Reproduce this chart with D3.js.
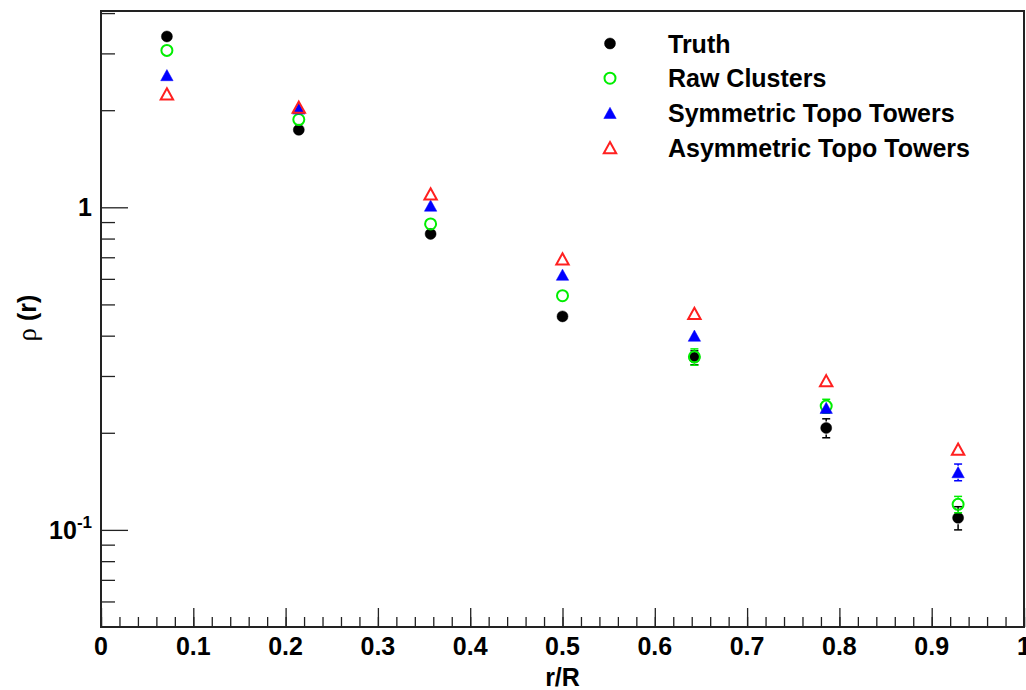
<!DOCTYPE html>
<html lang="en">
<head>
<meta charset="UTF-8">
<title>rho(r)</title>
<script src="https://d3js.org/d3.v7.min.js"></script>
<style>
  body { margin: 0; background: #fff; }
  text { font-family: "Liberation Sans", Arial, Helvetica, sans-serif; font-weight: bold; fill: #000; }
</style>
</head>
<body>
<script>
    // data
    const rBins = [0.0714, 0.2143, 0.3571, 0.5, 0.6429, 0.7857, 0.9286];

    const truth     = [3.385, 1.739, 0.827, 0.459, 0.342, 0.207, 0.109];
    const truthErr  = [0.02, 0.015, 0.01, 0.006, 0.017, 0.014, 0.009];
    const raw       = [3.064, 1.871, 0.888, 0.532, 0.344, 0.242, 0.120];
    const rawErr    = [0.02, 0.015, 0.01, 0.008, 0.02, 0.012, 0.007];
    const sym       = [2.569, 2.024, 1.012, 0.618, 0.400, 0.239, 0.151];
    const symErr    = [0.02, 0.015, 0.01, 0.008, 0.008, 0.01, 0.009];
    const asym      = [2.248, 2.043, 1.100, 0.692, 0.469, 0.290, 0.178];
    const asymErr   = [0.02, 0.015, 0.01, 0.008, 0.008, 0.008, 0.006];

    const seriesNames = ["Truth", "Raw Clusters", "Symmetric Topo Towers", "Asymmetric Topo Towers"];

    const xMajor = d3.range(0, 11).map(i => i / 10);
    const xMinor = d3.range(0, 51).map(i => i / 50);
    const xLabels = ["0", "0.1", "0.2", "0.3", "0.4", "0.5", "0.6", "0.7", "0.8", "0.9", "1"];
    const yMajor = [0.1, 1];
    const yMinor = [0.06, 0.07, 0.08, 0.09, 0.2, 0.3, 0.4, 0.5, 0.6, 0.7, 0.8, 0.9, 2, 3, 4];
    const yLabels = [["10", "-1"], ["1", ""]];

    const width  = 1026;
    const height = 690;
    const padL = 101, padR = 1024, padT = 11, padB = 627;
    const fs = 25;

    const series = [
        {name: seriesNames[0], vals: truth, errs: truthErr, color: "#000000", shape: "circle",   filled: true},
        {name: seriesNames[1], vals: raw,   errs: rawErr,   color: "#00ee00", shape: "circle",   filled: false},
        {name: seriesNames[2], vals: sym,   errs: symErr,   color: "#0000ff", shape: "triangle", filled: true},
        {name: seriesNames[3], vals: asym,  errs: asymErr,  color: "#ff2020", shape: "triangle", filled: false}
    ];

    const x = d3.scaleLinear().domain([0, 1]).range([padL, padR]);
    const y = d3.scaleLog().domain([0.05, 4.06]).range([padB, padT]);

    const svg = d3.select("body").append("svg").attr("width", width).attr("height", height);

    // marker shapes
    const R = 5.5;
    function markerPath(shape) {
        if (shape === "circle") return d3.symbol().type(d3.symbolCircle).size(Math.PI * R * R)();
        const w = 6.2, h = 5.6;
        return "M0," + (-h) + "L" + w + "," + h + "L" + (-w) + "," + h + "Z";
    }
    function drawMarker(g, s) {
        g.append("path")
            .attr("d", markerPath(s.shape))
            .attr("fill", s.filled ? s.color : "none")
            .attr("stroke", s.color)
            .attr("stroke-width", s.filled ? 0.5 : 2);
    }

    // axes
    const axisColor = "#222";
    const xAxisMajor = d3.axisBottom(x).tickValues(xMajor).tickSizeInner(-19).tickSizeOuter(0).tickFormat("");
    const xAxisMinor = d3.axisBottom(x).tickValues(xMinor).tickSizeInner(-10).tickSizeOuter(0).tickFormat("");
    const yAxisMajor = d3.axisLeft(y).tickValues(yMajor).tickSizeInner(-27).tickSizeOuter(0).tickFormat("");
    const yAxisMinor = d3.axisLeft(y).tickValues(yMinor).tickSizeInner(-14).tickSizeOuter(0).tickFormat("");

    const axes = svg.append("g").attr("class", "axes");
    [xAxisMinor, xAxisMajor].forEach(a => axes.append("g").attr("transform", "translate(0," + padB + ")").call(a));
    [yAxisMinor, yAxisMajor].forEach(a => axes.append("g").attr("transform", "translate(" + padL + ",0)").call(a));
    axes.selectAll(".domain").remove();
    axes.selectAll(".tick line").attr("stroke", axisColor).attr("stroke-width", 1.3);

    // frame
    svg.append("rect")
        .attr("x", padL).attr("y", padT)
        .attr("width", padR - padL).attr("height", padB - padT)
        .attr("fill", "none").attr("stroke", axisColor).attr("stroke-width", 2);

    // tick labels
    svg.append("g").selectAll("text")
        .data(xMajor).enter()
        .append("text")
        .attr("x", d => x(d))
        .attr("y", 655)
        .attr("text-anchor", "middle")
        .attr("font-size", fs)
        .text((d, i) => xLabels[i]);

    const yl = svg.append("g").selectAll("text")
        .data(yMajor).enter()
        .append("text")
        .attr("x", 92)
        .attr("y", d => y(d) + 9)
        .attr("text-anchor", "end")
        .attr("font-size", fs);
    yl.append("tspan").text((d, i) => yLabels[i][0]);
    yl.append("tspan").attr("font-size", 17).attr("dy", -11).text((d, i) => yLabels[i][1]);

    // axis titles
    svg.append("text")
        .attr("x", (padL + padR) / 2)
        .attr("y", 686)
        .attr("text-anchor", "middle")
        .attr("font-size", fs)
        .text("r/R");

    const yt = svg.append("text")
        .attr("transform", "translate(36,318) rotate(-90)")
        .attr("text-anchor", "middle")
        .attr("font-size", fs);
    yt.append("tspan").attr("font-family", "'Liberation Serif', 'DejaVu Serif', serif").attr("font-weight", "normal").attr("font-size", 27).text("ρ");
    yt.append("tspan").text(" (r)");

    // data points with error bars (gap where the marker sits)
    series.forEach(s => {
        const g = svg.append("g").attr("class", "dataset");
        s.vals.forEach((v, i) => {
            const px = x(rBins[i]), py = y(v);
            const yHi = y(v + s.errs[i]), yLo = y(v - s.errs[i]);
            const gap = R + 1;
            if (py - yHi > gap) {
                g.append("line").attr("x1", px).attr("x2", px).attr("y1", py - gap).attr("y2", yHi)
                    .attr("stroke", s.color).attr("stroke-width", 1.5);
                g.append("line").attr("x1", px - 4).attr("x2", px + 4).attr("y1", yHi).attr("y2", yHi)
                    .attr("stroke", s.color).attr("stroke-width", 1.5);
            }
            if (yLo - py > gap) {
                g.append("line").attr("x1", px).attr("x2", px).attr("y1", py + gap).attr("y2", yLo)
                    .attr("stroke", s.color).attr("stroke-width", 1.5);
                g.append("line").attr("x1", px - 4).attr("x2", px + 4).attr("y1", yLo).attr("y2", yLo)
                    .attr("stroke", s.color).attr("stroke-width", 1.5);
            }
            drawMarker(g.append("g").attr("transform", "translate(" + [px, py] + ")"), s);
        });
    });

    // legend
    const legend = svg.append("g").attr("class", "legend");
    series.forEach((s, i) => {
        const cy = 43.5 + i * 34.7;
        drawMarker(legend.append("g").attr("transform", "translate(" + [610, cy] + ")"), s);
        legend.append("text")
            .attr("x", 668)
            .attr("y", cy + 9)
            .attr("font-size", fs)
            .text(s.name);
    });
</script>
</body>
</html>
